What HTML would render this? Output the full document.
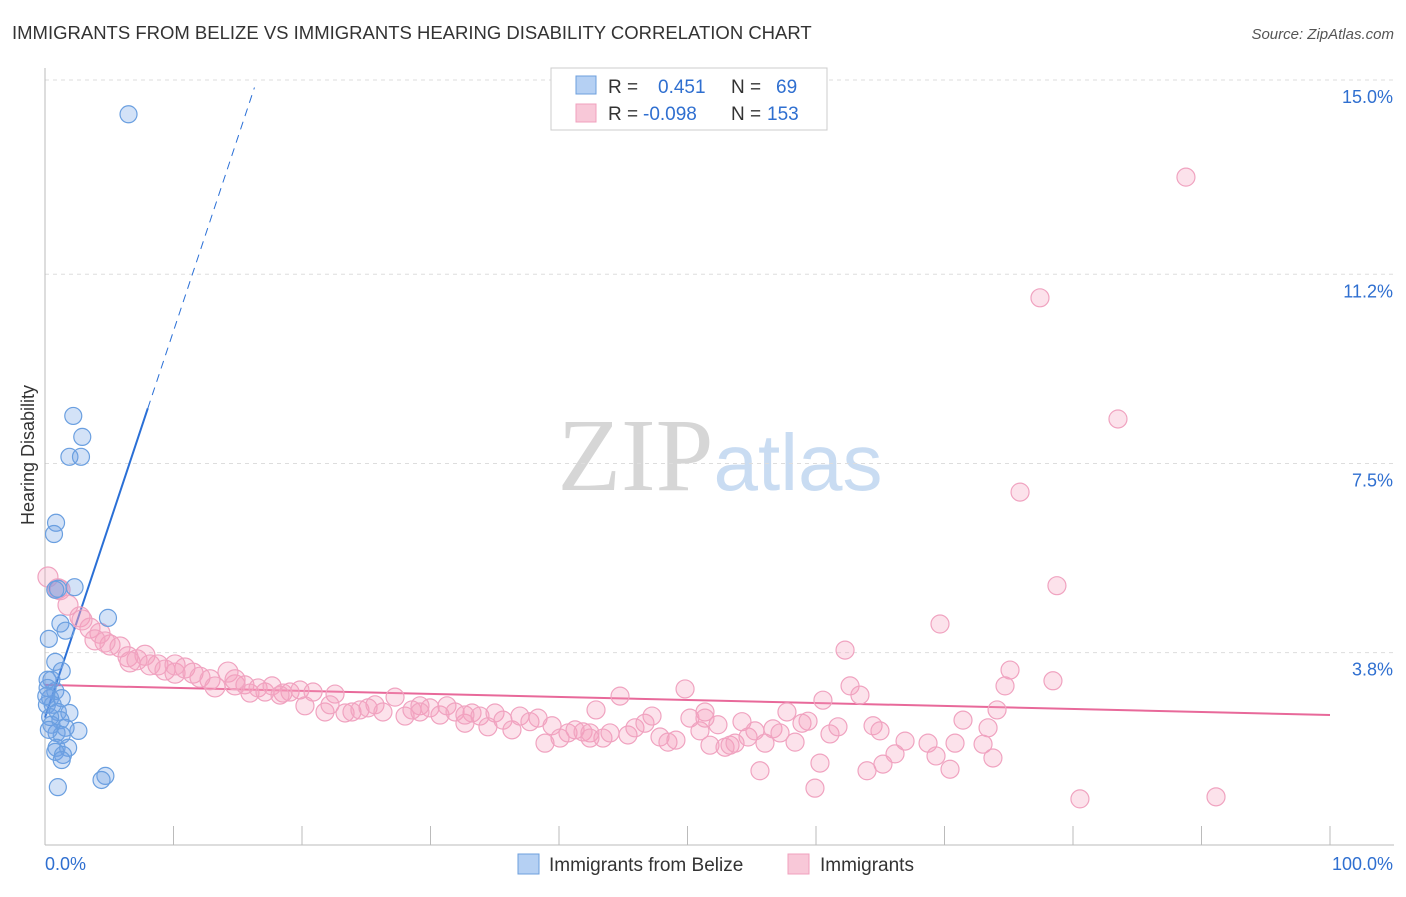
<!DOCTYPE html>
<html><head><meta charset="utf-8"><style>
body{margin:0;background:#fff;font-family:"Liberation Sans",sans-serif}
svg text{font-family:"Liberation Sans",sans-serif}
</style></head><body>
<svg id="chart" width="1406" height="892" viewBox="0 0 1406 892" xmlns="http://www.w3.org/2000/svg">
<text x="12" y="39" font-size="18.5" fill="#333">IMMIGRANTS FROM BELIZE VS IMMIGRANTS HEARING DISABILITY CORRELATION CHART</text>
<text x="1394" y="39" font-size="15" fill="#555" text-anchor="end" font-style="italic">Source: ZipAtlas.com</text>
<text x="720" y="490" font-size="104" text-anchor="middle"><tspan fill="#d6d6d6" font-family="Liberation Serif">ZIP</tspan><tspan fill="#c9dcf2" font-size="80">atlas</tspan></text>
<text transform="translate(34,455) rotate(-90)" font-size="18" fill="#333" text-anchor="middle">Hearing Disability</text>
<g id="grid"></g>
<g id="axes"></g>
<g id="trend"></g>
<g id="pts"></g>
<g>
<rect x="551" y="68" width="276" height="62" fill="#fff" stroke="#ccc"/>
<rect x="576" y="76" width="20" height="18" fill="#b5d0f3" stroke="#6d9fdc"/>
<rect x="576" y="104" width="20" height="18" fill="#f8c8d8" stroke="#f0a0be"/>
<text x="608" y="93" font-size="19" fill="#333">R = <tspan fill="#2f6fd0" x="658">0.451</tspan><tspan fill="#333" x="731">N = </tspan><tspan fill="#2f6fd0" x="776">69</tspan></text>
<text x="608" y="120" font-size="19" fill="#333">R = <tspan fill="#2f6fd0" x="643">-0.098</tspan><tspan fill="#333" x="731">N = </tspan><tspan fill="#2f6fd0" x="767">153</tspan></text>
</g>
<g>
<rect x="518" y="854" width="21" height="20" fill="#b5d0f3" stroke="#6d9fdc"/>
<text x="549" y="871" font-size="19" fill="#333">Immigrants from Belize</text>
<rect x="788" y="854" width="21" height="20" fill="#f8c8d8" stroke="#f0a0be"/>
<text x="820" y="871" font-size="19" fill="#333">Immigrants</text>
</g>
</svg>
<script>
const yTicks=[3.8,7.5,11.2,15.0];
const yTickLabels=["3.8%","7.5%","11.2%","15.0%"];
const xTicks=[0,10,20,30,40,50,60,70,80,90,100];
const xEndLabels=["0.0%","100.0%"];
const belizeX=[6.5,2.2,2.9,1.9,2.8,0.86,0.7,1.0,2.3,0.8,1.2,1.6,4.9,0.3,0.8,1.3,0.5,0.2,0.8,0.4,1.3,0.15,0.6,1.0,1.9,0.4,1.2,2.6,1.6,0.9,1.3,0.9,1.8,0.8,1.4,1.3,4.7,4.4,1.0,0.2,0.1,0.5,0.3];
const belizeY=[14.33,8.43,8.02,7.63,7.63,6.34,6.12,5.05,5.08,5.03,4.37,4.23,4.48,4.07,3.62,3.44,3.27,3.11,3.05,2.91,2.91,2.78,2.78,2.64,2.62,2.54,2.48,2.27,2.33,2.23,2.19,1.94,1.94,1.86,1.80,1.70,1.39,1.31,1.17,3.27,2.95,2.39,2.29];
const immX=[0.23,1.01,1.79,2.72,3.5,4.28,5.06,5.84,6.46,7.16,7.78,8.17,8.79,9.34,10.12,10.89,11.52,12.06,12.84,13.23,14.24,14.79,15.56,15.95,16.58,17.12,17.67,18.52,19.07,19.84,20.23,20.86,21.79,22.57,23.35,23.89,24.51,25.14,25.68,26.3,27.24,28.02,28.56,29.18,29.96,30.74,31.28,31.91,32.68,33.23,33.85,34.47,35.02,35.64,36.34,36.96,37.74,38.37,38.91,39.46,40.08,40.7,41.25,41.87,42.41,42.88,43.42,43.97,44.75,45.37,45.91,46.69,47.24,47.86,48.48,49.1,49.81,50.19,50.97,51.36,51.75,52.37,52.92,53.31,53.7,54.24,54.71,55.25,55.64,56.03,56.65,57.2,57.74,58.37,58.91,59.38,59.92,60.31,60.54,61.09,61.71,62.26,62.65,63.42,63.97,64.44,64.98,65.21,66.15,66.93,68.72,69.34,69.65,70.43,70.82,71.44,73.0,73.39,73.77,74.09,74.71,75.1,75.88,77.43,78.44,78.75,80.54,83.5,88.79,91.13,51.36,42.41,32.68,29.18,22.18,18.29,14.79,10.12,6.61,4.67,3.89,2.88,1.17];
const immY=[5.28,5.05,4.73,4.50,4.28,4.18,3.95,3.91,3.72,3.66,3.75,3.56,3.56,3.46,3.40,3.50,3.40,3.32,3.27,3.13,3.42,3.17,3.17,3.01,3.11,3.03,3.15,3.01,3.03,3.07,2.76,3.03,2.64,2.99,2.62,2.64,2.68,2.72,2.78,2.64,2.93,2.56,2.68,2.76,2.72,2.58,2.76,2.64,2.42,2.62,2.56,2.35,2.62,2.48,2.29,2.56,2.45,2.52,2.03,2.37,2.13,2.23,2.29,2.25,2.23,2.68,2.13,2.23,2.95,2.19,2.33,2.42,2.56,2.15,2.05,2.09,3.09,2.52,2.27,2.64,1.99,2.39,1.95,1.99,2.03,2.45,2.15,2.27,1.49,2.03,2.31,2.23,2.64,2.05,2.42,2.46,1.15,1.64,2.87,2.21,2.35,3.85,3.15,2.97,1.49,2.37,2.27,1.62,1.82,2.07,2.03,1.78,4.36,1.52,2.03,2.48,2.01,2.33,1.74,2.68,3.15,3.46,6.94,10.74,3.25,5.11,0.94,8.37,13.10,0.98,2.52,2.13,2.58,2.64,2.78,2.97,3.27,3.56,3.62,4.01,4.05,4.44,5.03];
const belizeTrend=[2.53,0.756];
const immTrend=[3.17,-0.0059];
const NS="http://www.w3.org/2000/svg";
const X0=45,X1=1330,Y15=80,PPV=51.13;
function sx(v){return X0+(X1-X0)*v/100;}
function sy(v){return Y15+(15-v)*PPV;}
function mk(tag,attrs,parent){const e=document.createElementNS(NS,tag);for(const k in attrs)e.setAttribute(k,attrs[k]);parent.appendChild(e);return e;}
const grid=document.getElementById('grid'),axes=document.getElementById('axes');
yTicks.forEach((t,i)=>{
  const l=mk('line',{x1:45,x2:1394,y1:sy(t),y2:sy(t),stroke:'#ddd','stroke-dasharray':'4,4'},grid);
  
  
  const tx=mk('text',{x:1393,y:sy(t)+23,'font-size':18,fill:'#2f6fd0','text-anchor':'end'},axes);
  tx.textContent=yTickLabels[i];
  
  
});
const yl=mk('line',{x1:45,x2:45,y1:68,y2:845,stroke:'#bbb'},axes);


const xl=mk('line',{x1:45,x2:1394,y1:845,y2:845,stroke:'#bbb'},axes);


xTicks.forEach(t=>{
  const l=mk('line',{x1:sx(t),x2:sx(t),y1:826,y2:845,stroke:'#bbb'},axes);
  
  
});
const xa=mk('text',{x:45,y:870,'font-size':18,fill:'#2f6fd0'},axes);xa.textContent=xEndLabels[0];


const xb=mk('text',{x:1393,y:870,'font-size':18,fill:'#2f6fd0','text-anchor':'end'},axes);xb.textContent=xEndLabels[1];


const pts=document.getElementById('pts');
immX.forEach((x,i)=>{
  const c=mk('circle',{cx:sx(x),cy:sy(immY[i]),r:x<15?10:9,fill:'rgba(244,160,190,0.3)',stroke:'#f0a3c0','stroke-width':1.2},pts);
  
  
});
belizeX.forEach((x,i)=>{
  const c=mk('circle',{cx:sx(x),cy:sy(belizeY[i]),r:8.5,fill:'rgba(110,160,230,0.3)',stroke:'#6a9fe0','stroke-width':1.2},pts);
  
  
});
const tr=document.getElementById('trend');
const bs=mk('line',{x1:sx(0),y1:sy(belizeTrend[0]),x2:sx(8),y2:sy(belizeTrend[0]+belizeTrend[1]*8),stroke:'#2a6fd6','stroke-width':2},tr);


const bd=mk('line',{x1:sx(8),y1:sy(belizeTrend[0]+belizeTrend[1]*8),x2:sx(16.3),y2:sy(belizeTrend[0]+belizeTrend[1]*16.3),stroke:'#2a6fd6','stroke-width':1,'stroke-dasharray':'8,6'},tr);


const it=mk('line',{x1:sx(0),y1:sy(immTrend[0]),x2:sx(100),y2:sy(immTrend[0]+immTrend[1]*100),stroke:'#e8699a','stroke-width':2},tr);


</script>
</body></html>
